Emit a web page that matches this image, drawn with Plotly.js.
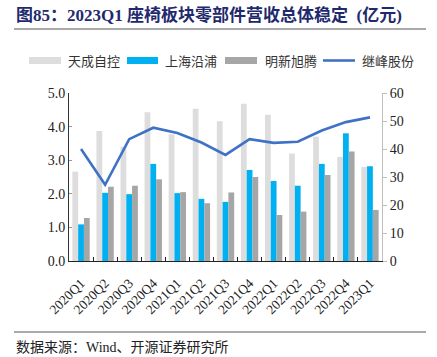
<!DOCTYPE html>
<html>
<head>
<meta charset="utf-8">
<script src="https://cdn.plot.ly/plotly-3.0.1.min.js"></script>
<style>html,body{margin:0;padding:0;background:#fff;}#chart{width:437px;height:357px;}</style>
</head>
<body>
<div id="chart"></div>
<script>
const categories = ["2020Q1","2020Q2","2020Q3","2020Q4","2021Q1","2021Q2","2021Q3","2021Q4","2022Q1","2022Q2","2022Q3","2022Q4","2023Q1"];
const tianCheng = [2.66, 3.87, 3.40, 4.43, 3.77, 4.53, 4.16, 4.68, 4.35, 3.20, 3.70, 3.10, 2.80];
const shangHai  = [1.09, 2.03, 1.99, 2.89, 2.02, 1.85, 1.76, 2.71, 2.38, 2.24, 2.89, 3.80, 2.82];
const mingXin   = [1.28, 2.21, 2.24, 2.43, 2.05, 1.72, 2.04, 2.50, 1.37, 1.47, 2.56, 3.26, 1.52];
const jiFeng    = [40.0, 27.2, 43.5, 47.6, 45.7, 42.3, 37.9, 43.5, 42.2, 42.6, 46.6, 49.6, 51.3];
const seriesNames = ["天成自控","上海沿浦","明新旭腾","继峰股份"];
const colors = ["#DDDDDD","#00B0F0","#A6A6A6","#3F72C6"];

const serif = "Liberation Serif, Times New Roman, Noto Sans CJK SC, serif";
const cjk = "Liberation Serif, Noto Sans CJK SC, sans-serif";

const traces = [
  {type:"bar", name:seriesNames[0], x:categories, y:tianCheng, marker:{color:colors[0]}, yaxis:"y"},
  {type:"bar", name:seriesNames[1], x:categories, y:shangHai, marker:{color:colors[1]}, yaxis:"y"},
  {type:"bar", name:seriesNames[2], x:categories, y:mingXin, marker:{color:colors[2]}, yaxis:"y"},
  {type:"scatter", mode:"lines", name:seriesNames[3], x:categories, y:jiFeng, line:{color:colors[3], width:2.6}, yaxis:"y2"}
];

const legendItems = [
  {x0:29, x1:61, tx:66, kind:"box"},
  {x0:127, x1:158, tx:163, kind:"box"},
  {x0:225, x1:257, tx:263, kind:"box"},
  {x0:323, x1:355, tx:360, kind:"line"}
];
const W = 437, H = 357;
const shapes = [
  {type:"line", xref:"paper", yref:"paper", x0:(14-69)/313, x1:(426-69)/313, y0:(261-29)/168, y1:(261-29)/168, line:{color:"#555", width:1}},
  {type:"line", xref:"paper", yref:"paper", x0:(14-69)/313, x1:(426-69)/313, y0:(261-332)/168, y1:(261-332)/168, line:{color:"#555", width:1}}
];
const annotations = [
  {xref:"paper", yref:"paper", x:(14-69)/313, y:(261-15)/168, xanchor:"left", yanchor:"middle", showarrow:false,
   text:"<b>图85：2023Q1 座椅板块零部件营收总体稳定  (亿元)</b>", font:{family:cjk, size:17, color:"#1F2A6E"}},
  {xref:"paper", yref:"paper", x:(14-69)/313, y:(261-347)/168, xanchor:"left", yanchor:"middle", showarrow:false,
   text:"数据来源：Wind、开源证券研究所", font:{family:cjk, size:14, color:"#222"}}
];
legendItems.forEach((it, i) => {
  const yc = (261-60.5)/168;
  if (it.kind === "box") {
    shapes.push({type:"rect", xref:"paper", yref:"paper", x0:(it.x0-69)/313, x1:(it.x1-69)/313,
      y0:(261-64)/168, y1:(261-57)/168, fillcolor:colors[i], line:{width:0}});
  } else {
    shapes.push({type:"line", xref:"paper", yref:"paper", x0:(it.x0-69)/313, x1:(it.x1-69)/313,
      y0:yc, y1:yc, line:{color:colors[i], width:2.6}});
  }
  annotations.push({xref:"paper", yref:"paper", x:(it.tx-69)/313, y:yc, xanchor:"left", yanchor:"middle",
    showarrow:false, text:seriesNames[i], font:{family:"Noto Sans CJK SC, sans-serif", size:13, color:"#333"}});
});

const layout = {
  width:W, height:H,
  margin:{l:69, r:55, t:93, b:96},
  paper_bgcolor:"#fff", plot_bgcolor:"#fff",
  showlegend:false,
  barmode:"group", bargap:0.28, bargroupgap:0,
  xaxis:{type:"category", tickangle:-45, tickfont:{family:serif, size:13.5, color:"#222"},
    ticklabelstandoff:8,
    showline:true, linecolor:"#222", linewidth:1, ticks:"inside", tickson:"boundaries", ticklen:4, tickcolor:"#222",
    showgrid:false, zeroline:false},
  yaxis:{range:[0,5], dtick:1, tickformat:".1f", tickfont:{family:serif, size:14, color:"#222"},
    showline:true, linecolor:"#333", linewidth:1, ticks:"inside", ticklen:3, tickcolor:"#999",
    showgrid:false, zeroline:false},
  yaxis2:{range:[0,60], dtick:10, overlaying:"y", side:"right", tickfont:{family:serif, size:14, color:"#222"},
    showline:true, linecolor:"#BFBFBF", linewidth:1, ticks:"outside", ticklen:4, tickcolor:"#BFBFBF",
    showgrid:false, zeroline:false},
  shapes:shapes,
  annotations:annotations
};
Plotly.newPlot("chart", traces, layout, {staticPlot:true, displayModeBar:false});
</script>
</body>
</html>
